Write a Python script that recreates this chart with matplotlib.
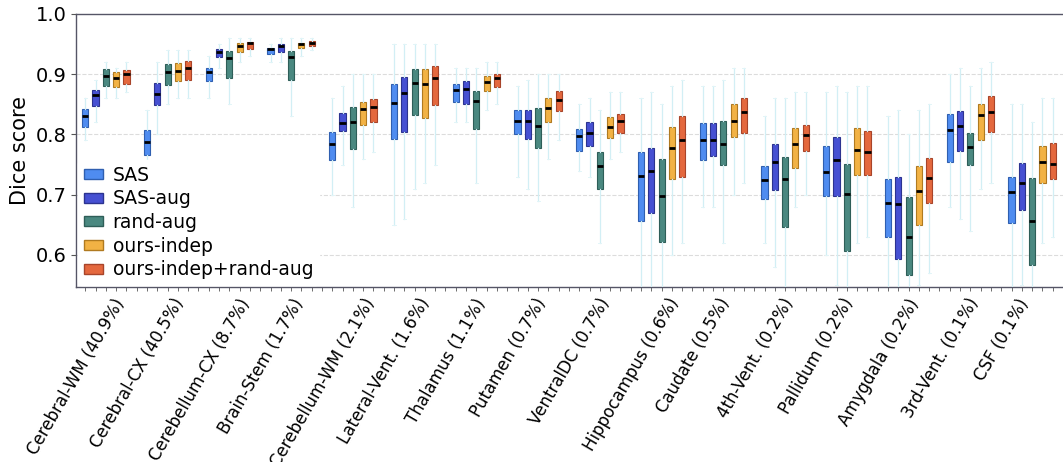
import numpy as np
import matplotlib
matplotlib.use("Agg")
import matplotlib.pyplot as plt
from matplotlib.patches import Patch


# ---------------------------------------------------------
#  Data
# ---------------------------------------------------------
structures = ["Cerebral-WM (40.9%)", "Cerebral-CX (40.5%)", "Cerebellum-CX (8.7%)",
              "Brain-Stem (1.7%)", "Cerebellum-WM (2.1%)", "Lateral-Vent. (1.6%)",
              "Thalamus (1.1%)", "Putamen (0.7%)", "VentralDC (0.7%)",
              "Hippocampus (0.6%)", "Caudate (0.5%)", "4th-Vent. (0.2%)",
              "Pallidum (0.2%)", "Amygdala (0.2%)", "3rd-Vent. (0.1%)", "CSF (0.1%)"]

methods = ["SAS", "SAS-aug", "rand-aug", "ours-indep", "ours-indep+rand-aug"]

# one row per structure, one column per method
median = [
    [0.831, 0.865, 0.897, 0.893, 0.900],
    [0.787, 0.867, 0.904, 0.906, 0.911],
    [0.903, 0.937, 0.927, 0.946, 0.951],
    [0.941, 0.946, 0.928, 0.950, 0.952],
    [0.784, 0.819, 0.820, 0.842, 0.845],
    [0.852, 0.868, 0.886, 0.884, 0.893],
    [0.873, 0.876, 0.855, 0.887, 0.894],
    [0.823, 0.822, 0.814, 0.844, 0.857],
    [0.798, 0.803, 0.748, 0.813, 0.823],
    [0.731, 0.740, 0.698, 0.777, 0.790],
    [0.791, 0.791, 0.784, 0.823, 0.837],
    [0.725, 0.755, 0.726, 0.784, 0.799],
    [0.738, 0.757, 0.701, 0.774, 0.771],
    [0.687, 0.684, 0.629, 0.706, 0.728],
    [0.808, 0.814, 0.779, 0.832, 0.837],
    [0.704, 0.719, 0.657, 0.754, 0.751],
]
q1 = [
    [0.813, 0.847, 0.881, 0.878, 0.883],
    [0.766, 0.849, 0.882, 0.888, 0.891],
    [0.888, 0.928, 0.893, 0.937, 0.941],
    [0.933, 0.936, 0.891, 0.943, 0.946],
    [0.758, 0.805, 0.776, 0.816, 0.821],
    [0.792, 0.804, 0.832, 0.828, 0.848],
    [0.854, 0.851, 0.809, 0.872, 0.878],
    [0.801, 0.792, 0.777, 0.820, 0.839],
    [0.772, 0.780, 0.710, 0.794, 0.802],
    [0.657, 0.669, 0.621, 0.726, 0.729],
    [0.758, 0.765, 0.750, 0.795, 0.803],
    [0.693, 0.707, 0.647, 0.745, 0.772],
    [0.697, 0.697, 0.606, 0.732, 0.733],
    [0.630, 0.594, 0.567, 0.649, 0.686],
    [0.754, 0.773, 0.750, 0.791, 0.804],
    [0.653, 0.674, 0.584, 0.720, 0.726],
]
q3 = [
    [0.842, 0.874, 0.908, 0.903, 0.907],
    [0.807, 0.885, 0.917, 0.918, 0.921],
    [0.910, 0.941, 0.939, 0.951, 0.954],
    [0.944, 0.950, 0.938, 0.952, 0.955],
    [0.804, 0.836, 0.845, 0.854, 0.859],
    [0.883, 0.896, 0.908, 0.908, 0.913],
    [0.883, 0.888, 0.872, 0.897, 0.900],
    [0.840, 0.840, 0.844, 0.860, 0.872],
    [0.809, 0.820, 0.771, 0.829, 0.834],
    [0.771, 0.778, 0.760, 0.812, 0.831],
    [0.819, 0.819, 0.823, 0.851, 0.860],
    [0.748, 0.784, 0.762, 0.810, 0.815],
    [0.781, 0.795, 0.751, 0.810, 0.805],
    [0.726, 0.730, 0.696, 0.748, 0.761],
    [0.834, 0.839, 0.802, 0.850, 0.863],
    [0.730, 0.753, 0.728, 0.781, 0.786],
]
whis_lo = [
    [0.79, 0.82, 0.86, 0.86, 0.87],
    [0.72, 0.80, 0.85, 0.86, 0.86],
    [0.86, 0.91, 0.85, 0.92, 0.93],
    [0.92, 0.92, 0.83, 0.93, 0.94],
    [0.70, 0.75, 0.68, 0.76, 0.77],
    [0.65, 0.66, 0.71, 0.72, 0.75],
    [0.82, 0.82, 0.72, 0.84, 0.85],
    [0.73, 0.71, 0.69, 0.76, 0.79],
    [0.74, 0.73, 0.62, 0.76, 0.77],
    [0.50, 0.50, 0.50, 0.60, 0.62],
    [0.68, 0.68, 0.62, 0.70, 0.72],
    [0.62, 0.58, 0.50, 0.68, 0.70],
    [0.60, 0.55, 0.50, 0.62, 0.63],
    [0.50, 0.50, 0.50, 0.55, 0.57],
    [0.68, 0.66, 0.64, 0.71, 0.72],
    [0.50, 0.55, 0.50, 0.62, 0.63],
]
whis_hi = [
    [0.86, 0.89, 0.92, 0.91, 0.92],
    [0.84, 0.92, 0.94, 0.94, 0.94],
    [0.93, 0.95, 0.96, 0.96, 0.96],
    [0.95, 0.96, 0.96, 0.96, 0.96],
    [0.86, 0.88, 0.90, 0.90, 0.90],
    [0.95, 0.95, 0.95, 0.95, 0.95],
    [0.91, 0.91, 0.91, 0.92, 0.92],
    [0.88, 0.89, 0.90, 0.90, 0.90],
    [0.85, 0.86, 0.84, 0.87, 0.87],
    [0.86, 0.87, 0.85, 0.88, 0.89],
    [0.88, 0.88, 0.89, 0.91, 0.91],
    [0.83, 0.86, 0.86, 0.87, 0.87],
    [0.87, 0.88, 0.87, 0.88, 0.88],
    [0.83, 0.84, 0.80, 0.84, 0.85],
    [0.90, 0.91, 0.88, 0.91, 0.92],
    [0.85, 0.85, 0.82, 0.86, 0.86],
]

colors = ["#4f8cf0", "#4650d2", "#4a8880", "#f2b244", "#e4683e"]
edge_colors = ["#2f5fb0", "#2c3390", "#2e5e58", "#b07a20", "#a8442a"]


# ---------------------------------------------------------
#  Figure
# ---------------------------------------------------------
fig = plt.figure(figsize=(10.63, 4.62), dpi=100)
ax = fig.add_axes([0.0715, 0.379, 0.9285, 0.591])

n_struct = len(structures)
n_meth = len(methods)
slot = n_meth + 1  # 5 boxes + 1 gap per structure

for m in range(n_meth):
    stats = []
    positions = []
    for s in range(n_struct):
        stats.append(dict(med=median[s][m], q1=q1[s][m], q3=q3[s][m],
                          whislo=whis_lo[s][m], whishi=whis_hi[s][m], fliers=[]))
        positions.append(s * slot + m)
    ax.bxp(stats, positions=positions, widths=0.6, patch_artist=True,
           showfliers=False,
           boxprops=dict(facecolor=colors[m], edgecolor=edge_colors[m], linewidth=0.8),
           medianprops=dict(color="black", linewidth=2.0),
           whiskerprops=dict(color="#d2eff5", linewidth=0.9),
           capprops=dict(color="#e2f5f8", linewidth=0.7),
           manage_ticks=False, zorder=3)

ax.set_ylim(0.547, 1.0)
ax.set_xlim(-0.4, 94.6)

# faint dashed grid
for yv in [0.6, 0.7, 0.8, 0.9]:
    ax.axhline(yv, color="#dcdcdc", linestyle="--", linewidth=0.8, zorder=1)

ax.set_yticks([0.6, 0.7, 0.8, 0.9, 1.0])
ax.set_yticklabels(["0.6", "0.7", "0.8", "0.9", "1.0"], fontsize=14)
ax.set_ylabel("Dice score", fontsize=15)

# small ticks under every slot, labels drawn separately (centred, rotated)
ax.set_xticks(np.arange(0, n_struct * slot), minor=True)
label_pos = np.arange(n_struct) * slot - 0.9
ax.set_xticks(label_pos)
ax.set_xticklabels(structures, rotation=60, ha="center", fontsize=12)
ax.tick_params(axis="x", which="major", length=0, pad=6)
ax.tick_params(axis="x", which="minor", length=3, color="#555555")
ax.tick_params(axis="y", length=3.5, color="#555555")

ax.spines["right"].set_visible(False)
for sp in ["left", "top", "bottom"]:
    ax.spines[sp].set_color("#555566")
    ax.spines[sp].set_linewidth(1.0)

handles = [Patch(facecolor=colors[m], edgecolor=edge_colors[m], label=methods[m])
           for m in range(n_meth)]
ax.legend(handles=handles, loc="lower left", fontsize=13.5, frameon=True,
          framealpha=1.0, edgecolor="white", handlelength=1.05, handleheight=0.45,
          handletextpad=0.5, labelspacing=0.25, borderaxespad=0.1, borderpad=0.3)

fig.savefig("out.png", dpi=100)
plt.close()
